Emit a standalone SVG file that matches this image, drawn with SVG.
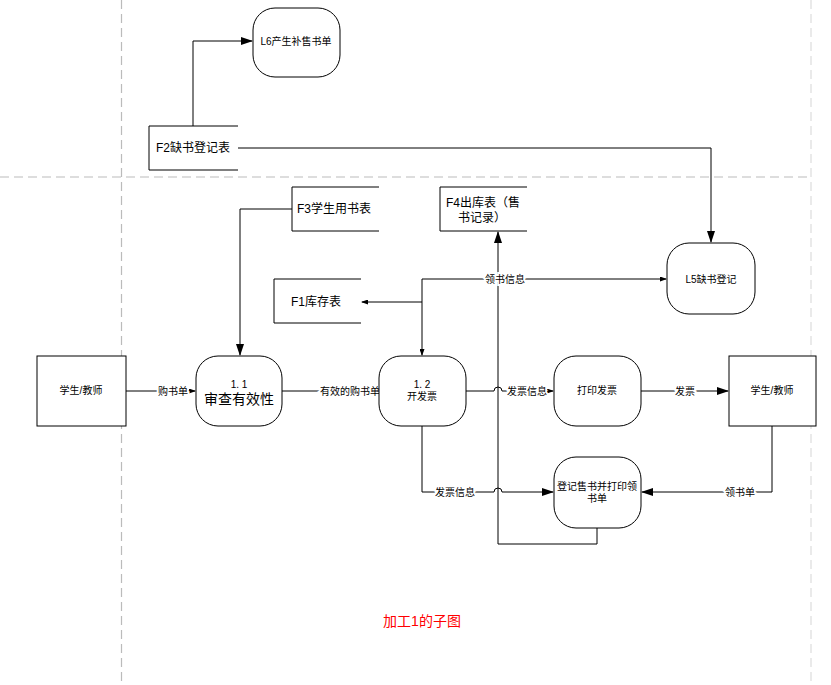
<svg xmlns="http://www.w3.org/2000/svg" width="831" height="685" viewBox="0 0 831 685">
<style>
.guide{stroke:#bbbbbb;stroke-width:1.2;stroke-dasharray:9 5;fill:none}
.guide2{stroke:#dddddd;stroke-width:1.2;stroke-dasharray:9 5;fill:none}
.box{fill:#fff;stroke:#000;stroke-width:1}
.store{fill:none;stroke:#000;stroke-width:1}
.ln{fill:none;stroke:#000;stroke-width:1}
text{font-family:"Liberation Sans","Noto Sans CJK SC",sans-serif;fill:#000}
.t10{font-size:10px}
.t12{font-size:12px}
.t14{font-size:14px}
.lbl{font-size:10px;paint-order:stroke;stroke:#fff;stroke-width:4px}
</style>
<defs>
<marker id="big" markerWidth="12" markerHeight="8" refX="11" refY="4" orient="auto" markerUnits="userSpaceOnUse">
<path d="M0,0 L12,4 L0,8 Z" fill="#000"/>
</marker>
<marker id="small" markerWidth="7" markerHeight="5" refX="6" refY="2.5" orient="auto" markerUnits="userSpaceOnUse">
<path d="M0,0 L7,2.5 L0,5 Z" fill="#000"/>
</marker>
</defs>
<rect width="831" height="685" fill="#fff"/>
<g id="guides">
<line class="guide" x1="121.5" y1="0" x2="121.5" y2="685"/>
<line class="guide" x1="0" y1="177" x2="811" y2="177"/>
<line class="guide2" x1="811" y1="0" x2="811" y2="685"/>
</g>
<g id="connectors">
<path class="ln" d="M193,126 V41 H252" marker-end="url(#big)"/>
<path class="ln" d="M238,148 H711 V242" marker-end="url(#big)"/>
<path class="ln" d="M292,209 H240 V355" marker-end="url(#big)"/>
<path class="ln" d="M126,391 H195" marker-end="url(#small)"/>
<path class="ln" d="M282,391 H378" marker-end="url(#small)"/>
<path class="ln" d="M466,391 H494 A4,4 0 0 1 502,391 H553" marker-end="url(#small)"/>
<path class="ln" d="M641,391 H728" marker-end="url(#big)"/>
<path class="ln" d="M772,426 V492 H642" marker-end="url(#big)"/>
<path class="ln" d="M422,426 V492 H494 A4,4 0 0 1 502,492 H553" marker-end="url(#big)"/>
<path class="ln" d="M597,528 V544 H498 V232" marker-end="url(#big)"/>
<path class="ln" d="M422,279 H666" marker-end="url(#small)"/>
<path class="ln" d="M422,279 V355" marker-end="url(#small)"/>
<path class="ln" d="M422,302 H362" marker-end="url(#small)"/>
<text class="lbl" x="173" y="395" text-anchor="middle">购书单</text>
<text class="lbl" x="350" y="395" text-anchor="middle">有效的购书单</text>
<text class="lbl" x="527" y="395" text-anchor="middle">发票信息</text>
<text class="lbl" x="685" y="395" text-anchor="middle">发票</text>
<text class="lbl" x="740" y="496" text-anchor="middle">领书单</text>
<text class="lbl" x="455" y="496" text-anchor="middle">发票信息</text>
<text class="lbl" x="505" y="283" text-anchor="middle">领书信息</text>
</g>
<g id="L6">
<rect class="box" x="253" y="8" width="87" height="69" rx="22" ry="22"/>
<text class="t10" x="296" y="45" text-anchor="middle">L6产生补售书单</text>
</g>
<g id="F2">
<path class="store" d="M238,126 H149 V170 H238"/>
<text class="t12" x="156" y="152">F2缺书登记表</text>
</g>
<g id="F3">
<path class="store" d="M379,187 H292 V231 H379"/>
<text class="t12" x="297" y="213">F3学生用书表</text>
</g>
<g id="F4">
<path class="store" d="M527,187 H440 V231 H527"/>
<text class="t12" x="446" y="207">F4出库表（售</text>
<text class="t12" x="458" y="222">书记录）</text>
</g>
<g id="F1">
<path class="store" d="M361,279 H274 V323 H361"/>
<text class="t12" x="291" y="306">F1库存表</text>
</g>
<g id="L5">
<rect class="box" x="667" y="243" width="88" height="71" rx="22" ry="22"/>
<text class="t10" x="711" y="283" text-anchor="middle">L5缺书登记</text>
</g>
<g id="student1">
<rect class="box" x="37" y="356" width="89" height="70"/>
<text class="t10" x="81" y="394" text-anchor="middle">学生/教师</text>
</g>
<g id="p11">
<rect class="box" x="196" y="356" width="86" height="70" rx="22" ry="22"/>
<text class="t10" x="239" y="388" text-anchor="middle">1. 1</text>
<text class="t14" x="239" y="404" text-anchor="middle">审查有效性</text>
</g>
<g id="p12">
<rect class="box" x="379" y="356" width="87" height="70" rx="22" ry="22"/>
<text class="t10" x="422" y="388" text-anchor="middle">1. 2</text>
<text class="t10" x="422" y="400" text-anchor="middle">开发票</text>
</g>
<g id="print">
<rect class="box" x="554" y="356" width="87" height="70" rx="22" ry="22"/>
<text class="t10" x="597" y="394" text-anchor="middle">打印发票</text>
</g>
<g id="student2">
<rect class="box" x="729" y="356" width="87" height="70"/>
<text class="t10" x="772" y="394" text-anchor="middle">学生/教师</text>
</g>
<g id="register">
<rect class="box" x="554" y="457" width="87" height="71" rx="22" ry="22"/>
<text class="t10" x="597" y="490" text-anchor="middle">登记售书并打印领</text>
<text class="t10" x="597" y="502" text-anchor="middle">书单</text>
</g>
<g id="title">
<text class="t14" x="422" y="626" text-anchor="middle" style="fill:#ff0000">加工1的子图</text>
</g>
</svg>
